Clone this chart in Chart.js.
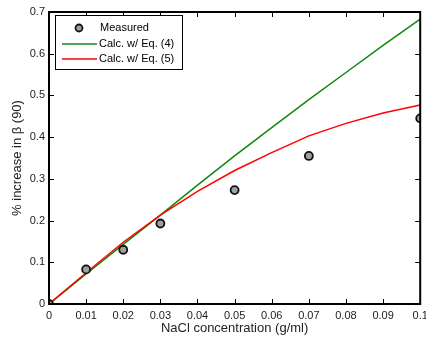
<!DOCTYPE html>
<html>
<head>
<meta charset="utf-8">
<script src="https://cdn.jsdelivr.net/npm/chart.js@4/dist/chart.umd.min.js"></script>
<style>
  html, body { margin: 0; padding: 0; background: #fff; }
  #wrap { width: 426px; height: 341px; position: relative; }
</style>
</head>
<body>
<div id="wrap"><canvas id="chart"></canvas></div>
<script>
// ---- data ----
const measuredX = [0, 0.01, 0.02, 0.03, 0.05, 0.07, 0.1];
const measuredY = [0, 0.083, 0.13, 0.193, 0.273, 0.355, 0.445];

const calcX = [0, 0.01, 0.02, 0.03, 0.04, 0.05, 0.06, 0.07, 0.08, 0.09, 0.1];
const eq4Y = [0, 0.072, 0.143, 0.213, 0.285, 0.355, 0.423, 0.49, 0.555, 0.62, 0.683];
const eq5Y = [0, 0.075, 0.148, 0.213, 0.27, 0.32, 0.363, 0.403, 0.433, 0.458, 0.477];

const seriesLabels = ['Measured', 'Calc. w/ Eq. (4)', 'Calc. w/ Eq. (5)'];

const pts = (xs, ys) => xs.map((x, i) => ({ x: x, y: ys[i] }));
const fmt = v => String(parseFloat(v.toFixed(2)));

const FONT = '"Liberation Sans", Arial, sans-serif';

// inward ticks on all four sides + full box
const boxTicks = {
    id: 'boxTicks',
    afterDraw(chart) {
        const { ctx, chartArea: a, scales } = chart;
        ctx.save();
        ctx.strokeStyle = '#000';
        ctx.lineWidth = 1;
        const len = 5;
        scales.x.ticks.forEach(t => {
            const px = Math.round(scales.x.getPixelForValue(t.value)) + 0.5;
            ctx.beginPath();
            ctx.moveTo(px, a.bottom); ctx.lineTo(px, a.bottom - len);
            ctx.moveTo(px, a.top); ctx.lineTo(px, a.top + len);
            ctx.stroke();
        });
        scales.y.ticks.forEach(t => {
            const py = Math.round(scales.y.getPixelForValue(t.value)) + 0.5;
            ctx.beginPath();
            ctx.moveTo(a.left, py); ctx.lineTo(a.left + len, py);
            ctx.moveTo(a.right, py); ctx.lineTo(a.right - len, py);
            ctx.stroke();
        });
        ctx.lineWidth = 2;
        ctx.strokeRect(a.left, a.top, a.right - a.left, a.bottom - a.top);
        ctx.restore();
    }
};

// legend box in the upper left corner
const boxLegend = {
    id: 'boxLegend',
    afterDraw(chart) {
        const { ctx, chartArea: a } = chart;
        const ds = chart.data.datasets;
        const x0 = a.left + 6, y0 = a.top + 3, w = 127, h = 54;
        ctx.save();
        ctx.fillStyle = '#fff';
        ctx.fillRect(x0, y0, w, h);
        ctx.strokeStyle = '#000';
        ctx.lineWidth = 1;
        ctx.strokeRect(x0 + 0.5, y0 + 0.5, w, h);
        ctx.font = '11px ' + FONT;
        ctx.textBaseline = 'middle';
        ctx.fillStyle = '#000';
        const rows = [y0 + 13, y0 + 29, y0 + 44];
        ds.forEach((d, i) => {
            const y = rows[i];
            if (i === 0) {
                ctx.beginPath();
                ctx.arc(x0 + 24, y, 3.5, 0, Math.PI * 2);
                ctx.fillStyle = d.backgroundColor;
                ctx.fill();
                ctx.lineWidth = 1.8;
                ctx.strokeStyle = d.borderColor;
                ctx.stroke();
            } else {
                ctx.beginPath();
                ctx.moveTo(x0 + 7, y); ctx.lineTo(x0 + 42, y);
                ctx.lineWidth = 1.5;
                ctx.strokeStyle = d.borderColor;
                ctx.stroke();
            }
            ctx.fillStyle = '#000';
            ctx.fillText(d.label, x0 + (i === 0 ? 45 : 44), y);
        });
        ctx.restore();
    }
};

new Chart(document.getElementById('chart'), {
    type: 'scatter',
    data: {
        datasets: [
            {
                label: seriesLabels[0],
                data: pts(measuredX, measuredY),
                backgroundColor: '#a0a0a0',
                borderColor: '#111',
                borderWidth: 1.8,
                pointRadius: 4,
                showLine: false,
                order: 0
            },
            {
                label: seriesLabels[1],
                data: pts(calcX, eq4Y),
                borderColor: '#108810',
                backgroundColor: '#108810',
                borderWidth: 1.5,
                pointRadius: 0,
                showLine: true,
                tension: 0,
                order: 2
            },
            {
                label: seriesLabels[2],
                data: pts(calcX, eq5Y),
                borderColor: '#ff0000',
                backgroundColor: '#ff0000',
                borderWidth: 1.5,
                pointRadius: 0,
                showLine: true,
                tension: 0,
                order: 1
            }
        ]
    },
    options: {
        responsive: true,
        maintainAspectRatio: false,
        animation: false,
        layout: { padding: { top: 12, right: 5, left: 10, bottom: 5 } },
        plugins: {
            legend: { display: false },
            tooltip: { enabled: false }
        },
        scales: {
            x: {
                type: 'linear',
                min: 0,
                max: 0.1,
                grid: { display: false, drawTicks: false },
                border: { display: false },
                afterFit: s => { s.height = 32; s.paddingRight = 0; s.paddingLeft = 0; },
                ticks: {
                    stepSize: 0.01,
                    color: '#222',
                    padding: 5,
                    maxRotation: 0,
                    font: { family: FONT, size: 11 },
                    callback: v => fmt(v)
                },
                title: {
                    display: true,
                    text: 'NaCl concentration (g/ml)',
                    color: '#222',
                    padding: 0,
                    font: { family: FONT, size: 13 }
                }
            },
            y: {
                min: 0,
                max: 0.7,
                grid: { display: false, drawTicks: false },
                border: { display: false },
                afterFit: s => { s.width = 39; s.paddingTop = 0; s.paddingBottom = 0; },
                ticks: {
                    stepSize: 0.1,
                    color: '#222',
                    padding: 4,
                    font: { family: FONT, size: 11 },
                    callback: v => fmt(v)
                },
                title: {
                    display: true,
                    text: '% increase in \u03B2 (90)',
                    color: '#222',
                    padding: 0,
                    font: { family: FONT, size: 13 }
                }
            }
        }
    },
    plugins: [boxTicks, boxLegend]
});
</script>
</body>
</html>
